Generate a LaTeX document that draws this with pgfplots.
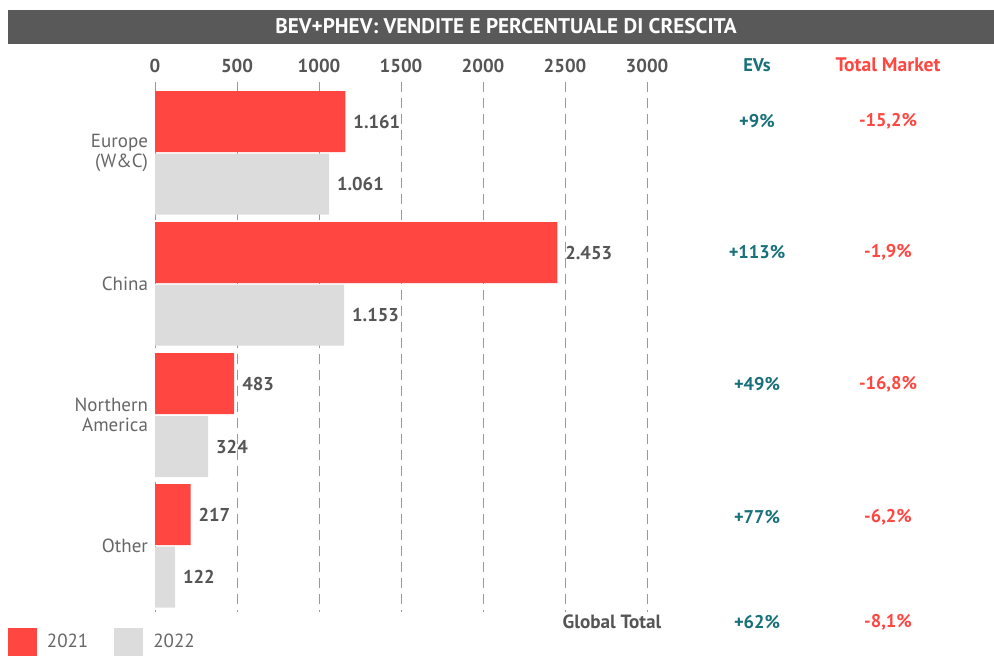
\documentclass[border=0pt]{standalone}
\usepackage{fontspec}
\setmainfont{PT Sans}
\usepackage{pgfplots}
\pgfplotsset{compat=1.18}

\definecolor{barred}{HTML}{FF4640}
\definecolor{bargray}{HTML}{DCDCDC}
\definecolor{titlegray}{HTML}{595959}
\definecolor{labgray}{HTML}{555555}
\definecolor{catgray}{HTML}{666666}
\definecolor{evteal}{HTML}{17707A}

\begin{document}
\begin{tikzpicture}
% pixel grid of the reference: 1px = 0.5pt, y pointing down
\begin{scope}[x=0.5pt,y=-0.5pt]
  \useasboundingbox (0,0) rectangle (994,654);
  \fill[titlegray] (8,10) rectangle (994,44);
  \node[text=white, font=\fontsize{10.6}{12}\selectfont\bfseries] at (506,26.5) {BEV+PHEV: VENDITE E PERCENTUALE DI CRESCITA};
  \begin{scope}[font=\fontsize{9.2}{11}\selectfont\bfseries]
    \node[text=evteal] at (757,65) {EVs};
    \node[text=barred, font=\fontsize{9.8}{11}\selectfont\bfseries] at (888,65) {Total Market};
    \node[text=evteal] at (757,121) {+9\%};
    \node[text=evteal] at (757,252) {+113\%};
    \node[text=evteal] at (757,384) {+49\%};
    \node[text=evteal] at (757,517) {+77\%};
    \node[text=evteal] at (757,622) {+62\%};
    \node[text=barred] at (888,121) {-15,2\%};
    \node[text=barred] at (888,252) {-1,9\%};
    \node[text=barred] at (888,384) {-16,8\%};
    \node[text=barred] at (888,517) {-6,2\%};
    \node[text=barred] at (888,622) {-8,1\%};
    \node[text=labgray, font=\fontsize{9.6}{11}\selectfont\bfseries] at (612,622) {Global Total};
  \end{scope}
\end{scope}

\begin{axis}[
    at={(77.5pt,-306pt)}, anchor=south west,
    scale only axis,
    width=246pt, height=265pt,
    xbar, bar shift=0pt, bar width=61,
    xmin=0, xmax=3000,
    ymin=82, ymax=612, y dir=reverse,
    axis line style={draw=none},
    major tick length=0pt,
    xtick={0,500,...,3000},
    xticklabel pos=upper,
    xticklabel style={font=\fontsize{9.4}{11}\selectfont\bfseries, text=labgray,
        /pgf/number format/1000 sep={}, yshift=1pt},
    /pgf/number format/assume math mode=true,
    xmajorgrids,
    grid style={dashed, gray!80, dash pattern=on 5pt off 3pt, line width=0.5pt},
    ytick={153,284,415,546},
    yticklabels={{Europe\\(W\&C)},China,{Northern\\America},Other},
    yticklabel style={align=right, font=\fontsize{9.5}{10}\selectfont, text=catgray},
    nodes near coords,
    point meta=explicit symbolic,
    every node near coord/.append style={anchor=west, font=\fontsize{9.3}{11}\selectfont\bfseries, text=labgray, xshift=0.5pt},
    legend style={at={(-0.299,-0.030)}, anchor=north west, draw=none, fill=none,
        inner sep=0pt, outer sep=0pt, legend columns=-1,
        font=\fontsize{9.5}{11}\selectfont, text=catgray,
        nodes={inner xsep=5pt},
        /tikz/every even column/.append style={column sep=8pt}},
    legend image code/.code={\fill[#1] (0pt,-7pt) rectangle (14.5pt,7pt);},
    clip=false,
]
\addplot[fill=barred, draw=none] coordinates {
    (1161,121.5) [1.161]
    (2453,252.5) [2.453]
    (483,383.5)  [483]
    (217,514.5)  [217]
};
\addplot[fill=bargray, draw=none] coordinates {
    (1061,184)   [1.061]
    (1153,315)   [1.153]
    (324,446.5)  [324]
    (122,577)    [122]
};
\legend{2021,2022}
\end{axis}
\end{tikzpicture}
\end{document}
